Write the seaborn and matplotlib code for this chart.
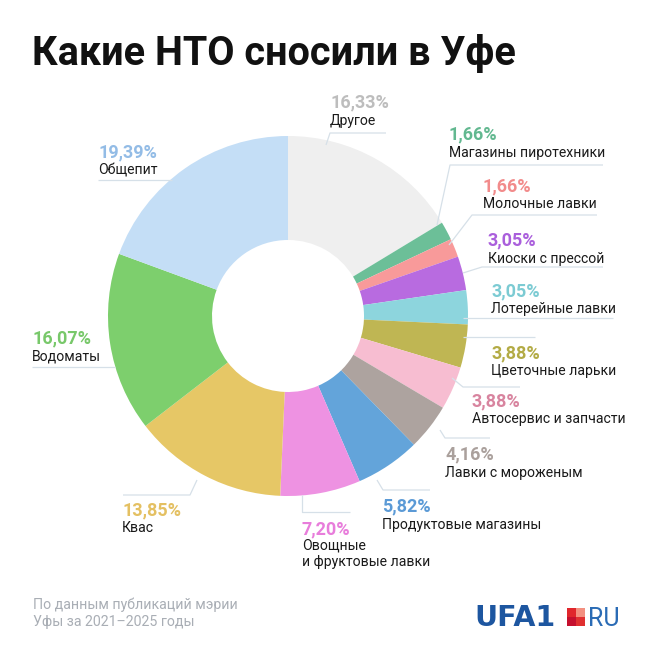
import matplotlib
matplotlib.use("Agg")
import matplotlib.pyplot as plt
from matplotlib.patches import Rectangle
import seaborn as sns

# ---- data ----
categories = ["Другое", "Магазины пиротехники", "Молочные лавки", "Киоски с прессой",
              "Лотерейные лавки", "Цветочные ларьки", "Автосервис и запчасти",
              "Лавки с мороженым", "Продуктовые магазины", "Овощные\nи фруктовые лавки",
              "Квас", "Водоматы", "Общепит"]
values = [16.33, 1.66, 1.66, 3.05, 3.05, 3.88, 3.88, 4.16, 5.82, 7.20, 13.85, 16.07, 19.39]
slice_colors = ["#efefef", "#6cbf98", "#f89a9a", "#b86be0", "#8dd5dd", "#bfb653", "#f7bdd1",
                "#ada39f", "#63a4da", "#ee92e2", "#e6c766", "#7dcf6d", "#c4def6"]
label_colors = ["#bdbdbd", "#62b890", "#f28b8b", "#aa5fdc", "#7ccbd3", "#b3ab45", "#d8849f",
                "#aaa09c", "#5b9ad6", "#e87ddb", "#e4c062", "#78c86a", "#93bce6"]
title = "Какие НТО сносили в Уфе"
source = "По данным публикаций мэрии\nУфы за 2021–2025 годы"

# ---- layout (pixel coordinates, y downward) ----
label_pos = [(330, 102), (449, 134), (483, 186), (488, 240), (491, 291), (491, 353),
             (472, 401), (445, 454), (382, 506), (302, 529), (122, 510), (32, 338), (98, 152)]
leaders = [
    [(326, 145), (330, 133), (386, 133)],
    [(437, 225), (450, 165), (603, 165)],
    [(449, 245), (472, 215), (597, 215)],
    [(463, 273), (482, 267), (603, 267)],
    [(463, 318), (613, 318)],
    [(463, 337), (535, 337)],
    [(452, 378), (463, 387), (520, 387)],
    [(440, 430), (445, 438), (490, 438)],
    [(377, 480), (383, 490), (430, 490)],
    [(302, 495), (302, 512), (350, 512)],
    [(197, 480), (190, 495), (123, 495)],
    [(32, 367), (115, 367)],
    [(98, 180), (172, 180)],
]

H = 656
def fy(y):
    return H - y

sns.set_theme(style="white")
plt.rcParams['font.family'] = ['Roboto', 'DejaVu Sans']

pal = sns.color_palette(slice_colors)

fig = plt.figure(figsize=(6.56, 6.56), dpi=100)
fig.patch.set_facecolor("white")
ax = fig.add_axes([0, 0, 1, 1])

ax.pie(values, colors=pal, startangle=90, counterclock=False, radius=180,
       center=(288, fy(316)), wedgeprops=dict(width=104, linewidth=0))
ax.set_xlim(0, H)
ax.set_ylim(0, H)
ax.set_aspect('equal')
ax.axis('off')

# leader lines
for pts in leaders:
    xs = [p[0] for p in pts]
    ys = [fy(p[1]) for p in pts]
    ax.plot(xs, ys, color="#d6e0e8", lw=0.9, solid_capstyle="butt", zorder=1)

# labels
for cat, v, col, (x, y) in zip(categories, values, label_colors, label_pos):
    pct = f"{v:.2f}".replace(".", ",") + "%"
    ax.text(x, fy(y), pct, color=col, fontsize=13, fontweight="bold",
            ha="left", va="center")
    if "\n" in cat:
        ax.text(x, fy(y + 10), cat, color="#1a1a1a", fontsize=10.1,
                ha="left", va="top", linespacing=1.2)
    else:
        ax.text(x, fy(y + 18.5), cat, color="#1a1a1a", fontsize=10.1,
                ha="left", va="center")

# title
ax.text(32, fy(65), title, fontsize=28.5, fontweight="bold", color="#111111",
        ha="left", va="baseline")

# source
ax.text(33, fy(597), source, fontsize=10.2, color="#a9aeb5", ha="left", va="top",
        linespacing=1.35)

# logo
ax.text(474, fy(626), "UFA1", fontsize=20.5, fontweight="heavy", color="#1d56a0",
        ha="left", va="baseline", family=["DejaVu Sans"])
sq = 18
x0, y0 = 567, 608
h = sq / 2
ax.add_patch(Rectangle((x0, fy(y0 + h)), h, h, color="#e0262c", lw=0))
ax.add_patch(Rectangle((x0 + h, fy(y0 + h)), h, h, color="#f39080", lw=0))
ax.add_patch(Rectangle((x0, fy(y0 + sq)), h, h, color="#c5102e", lw=0))
ax.add_patch(Rectangle((x0 + h, fy(y0 + sq)), h, h, color="#e03030", lw=0))
ax.text(588, fy(626), "RU", fontsize=18, color="#2a6bb5", ha="left", va="baseline")

fig.savefig("out.png", dpi=100)
